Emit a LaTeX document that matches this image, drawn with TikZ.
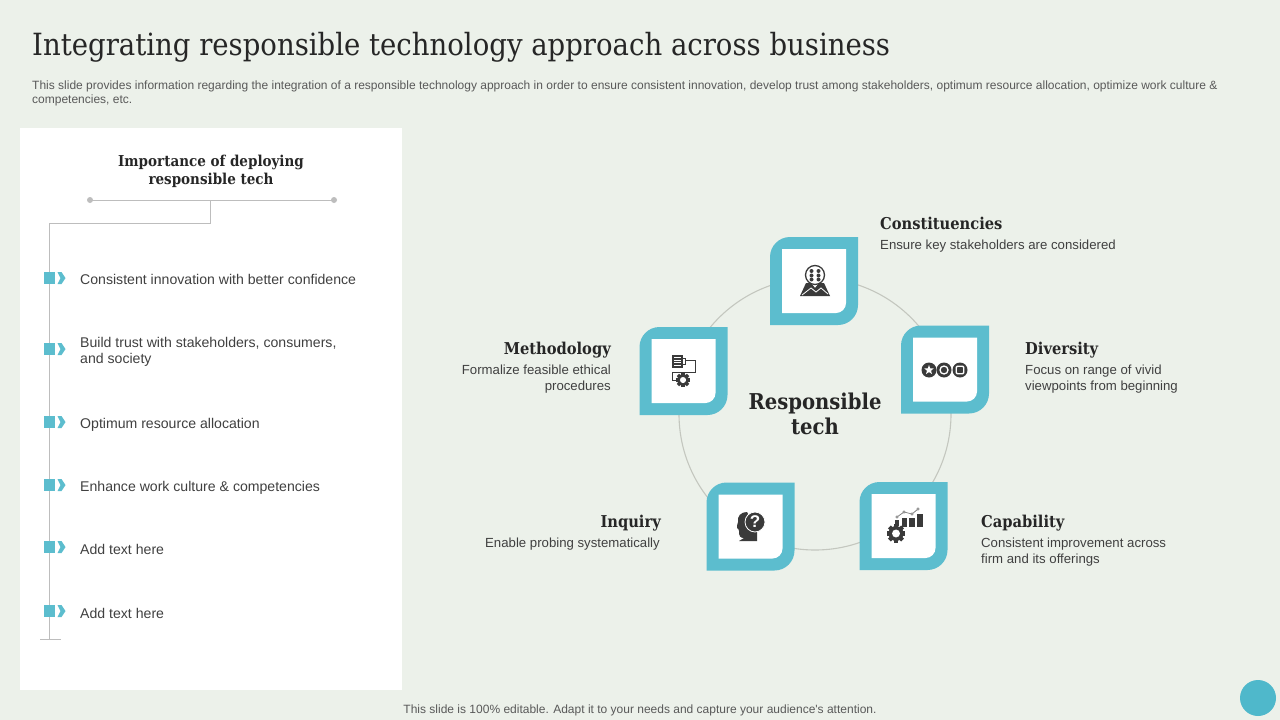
\documentclass[tikz,border=0pt]{standalone}
\usepackage{fontspec}
\newfontfamily\bodyfont{Liberation Sans}
\newfontfamily\headfont{DejaVu Serif Condensed}
\usetikzlibrary{positioning}
\definecolor{pagebg}{HTML}{ECF1EA}
\definecolor{tileblue}{HTML}{5CBDCE}
\definecolor{dotblue}{HTML}{4FB8CB}
\definecolor{inkdark}{HTML}{262626}
\definecolor{inkbody}{HTML}{404040}
\definecolor{inkgrey}{HTML}{595959}
\definecolor{icondark}{HTML}{3A3A3A}
\definecolor{rulegrey}{HTML}{BDBDBD}
\definecolor{ringgrey}{HTML}{C4C7BF}
\tikzset{
    headline/.style = {inner sep = 0, anchor = base west, text = inkdark, font = \headfont\bfseries\fontsize{16.3}{18}\selectfont},
    blurb/.style = {inner sep = 0, anchor = base west, text = inkbody, font = \bodyfont\fontsize{13.2}{16}\selectfont},
    rowtext/.style = {inner sep = 0, anchor = base west, align = left, text = inkbody, font = \bodyfont\fontsize{14.1}{16}\selectfont},
    smallprint/.style = {inner sep = 0, text = inkgrey, font = \bodyfont\fontsize{12}{14}\selectfont},
    tile/.pic = {
        \fill[tileblue] (-44, 44) [rounded corners = 20pt] -- (-44, -44) [sharp corners] -- (44, -44)
            [rounded corners = 20pt] -- (44, 44) [sharp corners] -- cycle;
        \fill[white] (-32, 32) -- (-32, -32) -- (32, -32) [rounded corners = 10pt] -- (32, 32) [sharp corners] -- cycle;
    },
    rowmark/.pic = {
        \fill[tileblue] (-5.5, -6) rectangle (5.5, 6);
        \fill[tileblue] (8, -6) -- (12, -6) -- (16, 0) -- (12, 6) -- (8, 6) -- (11, 0) -- cycle;
    },
    cog/.pic = {
        \foreach \a in {0, 45, ..., 315}{
            \fill[icondark, rotate = \a] (-1.9, -8.5) rectangle (1.9, 0);
        }
        \fill[icondark] (0, 0) circle (6.8);
        \fill[white] (0, 0) circle (3.6);
    },
}
\begin{document}
\begin{tikzpicture}[x = 1pt, y = -1pt]
    \useasboundingbox (0, 0) rectangle (1280, 720);
    \fill[pagebg] (0, 0) rectangle (1280, 720);
    \fill[white] (20, 128) rectangle (402, 690);

    \node[inner sep = 0, anchor = base west, text = inkdark, font = \headfont\fontsize{30.6}{34}\selectfont] (title) at (32, 55)
        {Integrating responsible technology approach across business};
    \node[smallprint, anchor = north west, align = left] (intro) at (32, 81)
        {This slide provides information regarding the integration of a responsible technology approach in order to ensure consistent innovation, develop trust among stakeholders, optimum resource allocation, optimize work culture \&\\competencies, etc.};
    \node[smallprint] (footer) at (640, 710)
        {This slide is 100\% editable. Adapt it to your needs and capture your audience's attention.};
    \fill[dotblue] (1258, 698) circle (18);

    \node[inner sep = 0, align = center, text = inkdark, font = \headfont\bfseries\fontsize{15}{18}\selectfont] (paneltitle) at (211, 171)
        {Importance of deploying\\responsible tech};

    \coordinate (ruleleft) at (90, 200);
    \coordinate (ruleright) at (334, 200);
    \coordinate (rulemid) at (210.5, 200);
    \coordinate (railbend) at (210.5, 223);
    \coordinate (railtop) at (49, 223);
    \coordinate (railfoot) at (49, 639);
    \coordinate (footleft) at (40, 639);
    \coordinate (footright) at (61, 639);
    \draw[rulegrey] (ruleleft) -- (ruleright);
    \fill[rulegrey] (ruleleft) circle (3) (ruleright) circle (3);
    \draw[rulegrey] (rulemid) -- (railbend) -- (railtop) -- (railfoot);
    \draw[rulegrey] (footleft) -- (footright);

    \foreach \n/\ymark/\ytext/\words in {
        1/278/284/{Consistent innovation with better confidence},
        2/349/363/{Build trust with stakeholders, consumers,\\and society},
        3/422/428/{Optimum resource allocation},
        4/485/491/{Enhance work culture \& competencies},
        5/547/554/{Add text here},
        6/611/618/{Add text here}}{
        \pic at (49.5, \ymark) {rowmark};
        \node[rowtext] (row\n) at (80, \ytext) {\words};
    }

    \node[draw = ringgrey, line width = 1.1pt, circle, minimum size = 272pt, inner sep = 0] (ring) at (815, 414) {};
    \node[inner sep = 0, align = center, text = inkdark, font = \headfont\bfseries\fontsize{21.8}{25}\selectfont] (hub) at (815, 414)
        {Responsible\\tech};

    \pic at (814, 281) {tile};
    \pic at (683.5, 371) {tile};
    \pic at (945, 369.5) {tile};
    \pic at (750.5, 526.5) {tile};
    \pic at (903.5, 526) {tile};

    \node[headline] (constituencies) at (880, 229) {Constituencies};
    \node[blurb] (constituenciestext) at (880, 249) {Ensure key stakeholders are considered};
    \node[headline, anchor = base east] (methodology) at (611, 354) {Methodology};
    \node[blurb, anchor = base east, align = right] (methodologytext) at (611, 390) {Formalize feasible ethical\\procedures};
    \node[headline] (diversity) at (1025, 354) {Diversity};
    \node[blurb, align = left] (diversitytext) at (1025, 390) {Focus on range of vivid\\viewpoints from beginning};
    \node[headline, anchor = base east] (inquiry) at (661, 527) {Inquiry};
    \node[blurb, anchor = base east] (inquirytext) at (660, 547) {Enable probing systematically};
    \node[headline] (capability) at (981, 527) {Capability};
    \node[blurb, align = left] (capabilitytext) at (981, 563) {Consistent improvement across\\firm and its offerings};

    \begin{scope}[shift = {(815, 282)}]
        \fill[icondark] (-15, 14) -- (-9, 1) -- (-4, 1) -- (0, 6) -- (4, 1) -- (9, 1) -- (15, 14) -- cycle;
        \draw[white, line width = 0.8pt] (-13, 13) -- (-4, 6) -- (1, 10) -- (6, 6) -- (13, 12);
        \draw[icondark, fill = white, line width = 1.3pt] (0, -7) circle (9.5);
        \foreach \dx in {-3.5, 3.5}{
            \foreach \dy in {-11, -6.5, -2.5}{
                \fill[icondark] (\dx, \dy) circle (2);
            }
        }
    \end{scope}

    \begin{scope}[shift = {(683, 370)}]
        \fill[icondark] (-11, -15) rectangle (0, -2);
        \foreach \dy in {-12.5, -10, -7.5, -5}{
            \draw[white, line width = 0.7pt] (-9, \dy) -- (-2, \dy);
        }
        \draw[icondark, line width = 0.9pt] (0, -12) -- (2, -12) -- (2, -6) -- (0, -6) (2, -10) -- (12, -10) -- (12, 2) -- (-11, 2) -- (-11, 10) -- (-6, 10);
        \pic[scale = 0.85] at (0, 10) {cog};
    \end{scope}

    \begin{scope}[shift = {(944, 370)}]
        \foreach \dx in {-15, 0, 16}{
            \fill[icondark] (\dx, 0) circle (7.5);
        }
        \fill[white] (-15, -5) -- (-13.8, -1.7) -- (-10.3, -1.5) -- (-13, 0.7) -- (-12, 4) -- (-15, 2.1) -- (-18, 4) -- (-17, 0.7) -- (-19.7, -1.5) -- (-16.2, -1.7) -- cycle;
        \draw[white, line width = 1.3pt] (0, 0) circle (4);
        \draw[white, line width = 1.3pt, rounded corners = 1pt] (12.3, -3.7) rectangle (19.7, 3.7);
    \end{scope}

    \begin{scope}[shift = {(750, 525)}]
        \fill[icondark] (-3, -13) .. controls (-9, -13) and (-13, -9) .. (-12, -3)
            .. controls (-12, -1) and (-14, 2) .. (-13, 3)
            .. controls (-12, 4) and (-11, 4) .. (-11, 6)
            .. controls (-11, 11) and (-10, 13) .. (-6, 13)
            -- (-11, 16) -- (7, 16) -- (7, 4) -- cycle;
        \draw[white, fill = icondark, line width = 0.8pt] (5, -3) circle (10);
        \node[inner sep = 0, text = white, font = \bodyfont\bfseries\fontsize{17}{17}\selectfont] (askmark) at (5, -3) {?};
    \end{scope}

    \begin{scope}[shift = {(906, 524)}]
        \foreach \dx/\dy in {-1.5/-6, 6/-6, 14/-10}{
            \fill[icondark] (\dx - 2.7, \dy) rectangle (\dx + 2.7, 3);
        }
        \fill[icondark] (-11.5, -4) rectangle (-7, 2);
        \draw[icondark!70, line width = 0.7pt] (-9, -7) -- (-2, -12) -- (6, -10) -- (12, -15);
        \foreach \dx/\dy in {-9/-7, -2/-12, 6/-10, 12/-15}{
            \draw[icondark!70, fill = white, line width = 0.6pt] (\dx, \dy) circle (1.3);
        }
        \pic[scale = 1.1] at (-10, 9.5) {cog};
    \end{scope}
\end{tikzpicture}
\end{document}
